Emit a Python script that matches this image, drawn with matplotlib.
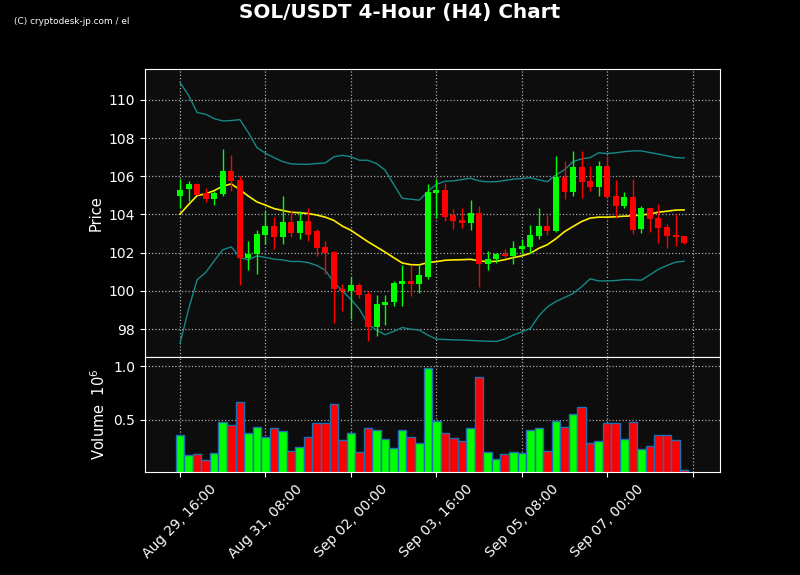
import numpy as np
import matplotlib
matplotlib.use('Agg')
import matplotlib.pyplot as plt

# ── Data (60 x 4h candles from Aug 29 16:00) ─────────────────────────────────
OPEN = [104.99, 105.34, 105.58, 105.10, 104.82, 105.08, 106.26, 105.79, 101.74, 101.91,
        102.92, 103.39, 102.83, 103.60, 103.04, 103.65, 103.13, 102.30, 102.03, 100.09,
        99.97, 100.31, 99.83, 98.09, 99.28, 99.39, 100.38, 100.52, 100.38, 100.75,
        105.13, 105.27, 103.97, 103.70, 103.57, 104.07, 101.43, 101.65, 101.95, 101.83,
        102.21, 102.30, 102.87, 103.39, 103.13, 105.95, 105.18, 106.47, 105.74, 105.44,
        106.52, 104.96, 104.43, 104.90, 103.22, 104.35, 103.83, 103.34, 102.92, 102.87]
HIGH = [105.88, 105.77, 105.67, 105.39, 105.22, 107.44, 107.13, 106.00, 102.61, 103.17,
        104.17, 103.86, 104.99, 104.26, 104.17, 104.35, 103.22, 102.61, 102.09, 100.35,
        100.73, 100.43, 100.00, 99.77, 99.77, 100.52, 101.36, 101.36, 101.36, 105.62,
        105.88, 105.65, 104.30, 104.35, 104.78, 104.42, 102.09, 101.97, 102.17, 102.61,
        102.70, 103.43, 104.35, 103.95, 107.04, 106.82, 107.30, 107.34, 106.56, 106.78,
        107.04, 105.83, 105.17, 105.88, 104.43, 104.35, 104.56, 103.48, 104.05, 102.87]
LOW = [104.35, 104.73, 105.00, 104.66, 104.49, 104.99, 105.25, 100.31, 101.08, 100.87,
       102.43, 102.17, 102.43, 102.83, 102.70, 102.61, 101.83, 100.87, 98.30, 98.96,
       98.52, 99.65, 97.38, 97.65, 98.23, 99.20, 99.20, 99.74, 99.91, 100.61,
       103.83, 103.65, 103.22, 103.30, 103.17, 100.21, 101.08, 101.46, 101.70, 101.43,
       102.00, 102.00, 102.74, 102.92, 103.10, 104.83, 104.99, 104.87, 105.25, 104.96,
       104.92, 103.83, 104.35, 102.96, 103.04, 103.08, 102.52, 102.26, 102.35, 102.47]
CLOSE = [105.30, 105.58, 105.03, 104.83, 105.11, 106.26, 105.77, 101.74, 101.93, 102.96,
         103.39, 102.83, 103.60, 103.04, 103.65, 102.92, 102.26, 102.00, 100.07, 99.97,
         100.31, 99.79, 98.09, 99.30, 99.41, 100.42, 100.52, 100.38, 100.83, 105.17,
         105.27, 103.86, 103.65, 103.57, 104.07, 101.43, 101.65, 101.91, 101.83, 102.23,
         102.35, 102.92, 103.39, 103.13, 105.95, 105.18, 106.47, 105.70, 105.44, 106.52,
         104.92, 104.43, 104.90, 103.18, 104.35, 103.77, 103.30, 102.87, 102.82, 102.52]

# volume in units of 1e6
VOLUME = [0.350, 0.163, 0.172, 0.116, 0.181, 0.481, 0.444, 0.669, 0.369, 0.431,
          0.338, 0.425, 0.388, 0.200, 0.244, 0.338, 0.463, 0.472, 0.650, 0.303,
          0.378, 0.191, 0.425, 0.406, 0.313, 0.228, 0.397, 0.338, 0.275, 0.988,
          0.490, 0.369, 0.322, 0.294, 0.416, 0.903, 0.191, 0.125, 0.172, 0.191,
          0.181, 0.406, 0.416, 0.200, 0.490, 0.434, 0.556, 0.622, 0.284, 0.294,
          0.463, 0.472, 0.313, 0.481, 0.219, 0.247, 0.350, 0.359, 0.303, 0.022]

# 20-period SMA and Bollinger bands (already warmed up before first candle)
SMA = [104.02, 104.52, 104.99, 105.08, 105.25, 105.48, 105.60, 105.30, 104.96, 104.66,
       104.49, 104.31, 104.21, 104.12, 104.09, 104.05, 103.97, 103.86, 103.69, 103.39,
       103.17, 102.87, 102.57, 102.30, 102.03, 101.74, 101.46, 101.37, 101.36, 101.48,
       101.53, 101.60, 101.62, 101.63, 101.65, 101.57, 101.53, 101.55, 101.63, 101.74,
       101.83, 101.97, 102.23, 102.42, 102.73, 103.10, 103.37, 103.63, 103.81, 103.86,
       103.86, 103.88, 103.91, 103.93, 103.97, 104.03, 104.12, 104.17, 104.23, 104.24]
BB_UPPER = [110.91, 110.24, 109.34, 109.25, 109.02, 108.90, 108.92, 108.97, 108.29, 107.50,
            107.21, 106.98, 106.77, 106.65, 106.63, 106.63, 106.67, 106.70, 107.02, 107.10,
            107.02, 106.84, 106.84, 106.67, 106.32, 105.58, 104.85, 104.80, 104.75, 105.20,
            105.58, 105.74, 105.76, 105.83, 105.90, 105.76, 105.71, 105.72, 105.78, 105.85,
            105.88, 105.93, 105.81, 105.72, 106.07, 106.34, 106.77, 106.91, 106.98, 107.23,
            107.19, 107.23, 107.29, 107.33, 107.33, 107.24, 107.16, 107.07, 106.98, 106.96]
BB_LOWER = [97.24, 99.04, 100.58, 100.96, 101.57, 102.15, 102.30, 101.75, 101.62, 101.83,
            101.75, 101.66, 101.62, 101.54, 101.54, 101.48, 101.33, 101.08, 100.44, 100.00,
            99.55, 99.04, 98.25, 97.94, 97.70, 97.87, 98.08, 97.99, 97.94, 97.68,
            97.47, 97.45, 97.43, 97.42, 97.40, 97.38, 97.36, 97.35, 97.47, 97.68,
            97.85, 98.03, 98.69, 99.16, 99.44, 99.65, 99.86, 100.21, 100.63, 100.52,
            100.52, 100.54, 100.59, 100.58, 100.56, 100.84, 101.13, 101.33, 101.50, 101.55]

TICK_POS = [0, 10, 20, 30, 40, 50, 60]
TICK_LABELS = ['Aug 29, 16:00', 'Aug 31, 08:00', 'Sep 02, 00:00',
               'Sep 03, 16:00', 'Sep 05, 08:00', 'Sep 07, 00:00', '']

UP_CLR = '#00ff00'
DN_CLR = '#ff0000'
BG_AX = '#0d0d0d'

# ── Figure layout ─────────────────────────────────────────────────────────────
fig = plt.figure(figsize=(8, 5.75), dpi=100)
fig.patch.set_facecolor('black')

ax_p = fig.add_axes([0.18125, 0.379, 0.71875, 0.501])
ax_v = fig.add_axes([0.18125, 0.179, 0.71875, 0.200], sharex=ax_p)

for ax in (ax_p, ax_v):
    ax.set_facecolor(BG_AX)
    for sp in ax.spines.values():
        sp.set_edgecolor('white')
    ax.tick_params(colors='white', labelsize=10)
    ax.grid(True, color='#aaaaaa', linestyle=':', linewidth=0.9)
    ax.set_axisbelow(True)

x = np.arange(len(OPEN))
o, h, l, c = map(np.array, (OPEN, HIGH, LOW, CLOSE))
up = c >= o
cols = np.where(up, UP_CLR, DN_CLR)

# ── Price panel ───────────────────────────────────────────────────────────────
ax_p.plot(x, BB_UPPER, color='#158888', linewidth=1)
ax_p.plot(x, BB_LOWER, color='#158888', linewidth=1)
ax_p.plot(x, SMA, color='#ffee00', linewidth=1.2)

ax_p.vlines(x, l, h, colors=cols, linewidth=1, zorder=3)
ax_p.bar(x, np.abs(c - o), bottom=np.minimum(o, c), width=0.7,
         color=cols, zorder=4)

ax_p.set_ylim(96.53, 111.62)
ax_p.set_yticks([98, 100, 102, 104, 106, 108, 110])
ax_p.set_ylabel('Price', color='white', fontsize=10.5)
ax_p.tick_params(axis='x', labelbottom=False)

# ── Volume panel ──────────────────────────────────────────────────────────────
ax_v.bar(x, VOLUME, width=1.0, color=cols, edgecolor='#1f6fb4', linewidth=1)
ax_v.set_ylim(0.006, 1.087)
ax_v.set_yticks([0.5, 1.0])
ax_v.set_ylabel('Volume  $10^{6}$', color='white', fontsize=10.5)

ax_v.set_xlim(-4.1, 63.2)
ax_v.set_xticks(TICK_POS)
ax_v.set_xticklabels(TICK_LABELS, rotation=45, ha='center')

fig.suptitle('SOL/USDT 4-Hour (H4) Chart', color='white', fontsize=14.4,
             fontweight='bold', y=0.995)
fig.text(0.018, 0.963, '(C) cryptodesk-jp.com / el', color='white', fontsize=6.4,
         family=['Liberation Sans Narrow', 'DejaVu Sans'], va='center')

fig.savefig('out.png', dpi=100, facecolor=fig.get_facecolor())
